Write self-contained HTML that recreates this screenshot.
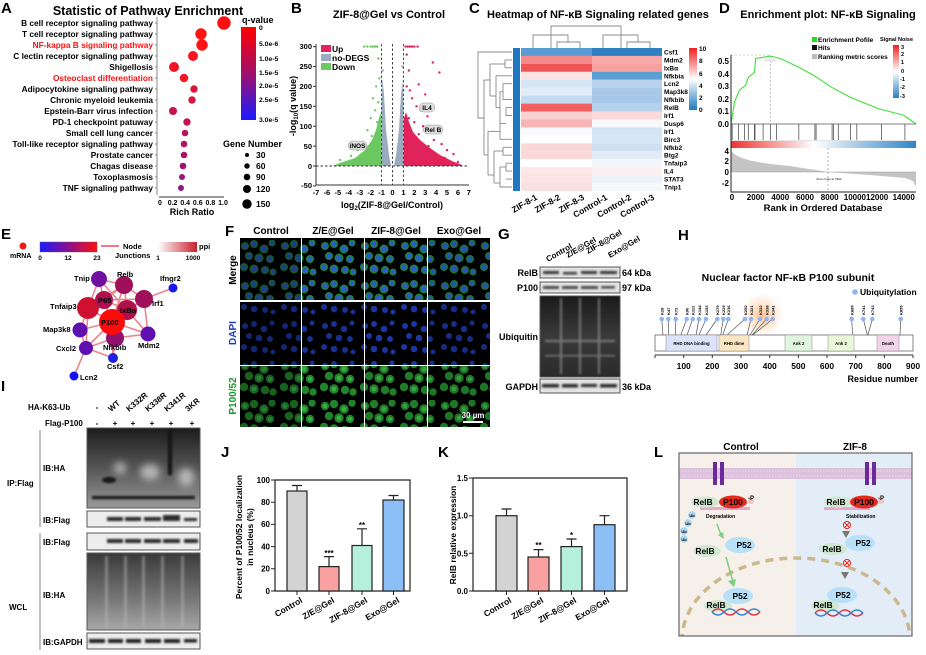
<!DOCTYPE html>
<html><head><meta charset="utf-8"><style>
html,body{margin:0;padding:0;background:#fff;width:926px;height:655px;overflow:hidden;}
svg{display:block;font-family:"Liberation Sans",Arial,sans-serif;}
.b{font-weight:bold;}
</style></head><body>
<svg width="926" height="655" viewBox="0 0 926 655" xmlns="http://www.w3.org/2000/svg">
<defs>
<linearGradient id="qv" x1="0" y1="0" x2="0" y2="1"><stop offset="0" stop-color="#ff0000"/><stop offset="0.5" stop-color="#a0106a"/><stop offset="1" stop-color="#1a1aff"/></linearGradient>
<linearGradient id="hmcb" x1="0" y1="0" x2="0" y2="1"><stop offset="0" stop-color="#f02020"/><stop offset="0.5" stop-color="#ffffff"/><stop offset="1" stop-color="#1f78c0"/></linearGradient>
<linearGradient id="rwb" x1="0" y1="0" x2="1" y2="0"><stop offset="0" stop-color="#f03030"/><stop offset="0.45" stop-color="#ffffff"/><stop offset="1" stop-color="#2f85c8"/></linearGradient>
<linearGradient id="sn" x1="0" y1="0" x2="0" y2="1"><stop offset="0" stop-color="#f02020"/><stop offset="0.5" stop-color="#ffffff"/><stop offset="1" stop-color="#2f80c0"/></linearGradient>
<linearGradient id="ebar" x1="0" y1="0" x2="1" y2="0"><stop offset="0" stop-color="#1a1aff"/><stop offset="0.5" stop-color="#8a1090"/><stop offset="1" stop-color="#ff1010"/></linearGradient>
<linearGradient id="ppi" x1="0" y1="0" x2="1" y2="0"><stop offset="0" stop-color="#ffffff"/><stop offset="1" stop-color="#c8202a"/></linearGradient>
<linearGradient id="iphA" x1="0" y1="0" x2="0" y2="1"><stop offset="0" stop-color="#1c1c1c"/><stop offset="0.5" stop-color="#555"/><stop offset="1" stop-color="#9a9a9a"/></linearGradient>
<linearGradient id="wclA" x1="0" y1="0" x2="0" y2="1"><stop offset="0" stop-color="#3a3a3a"/><stop offset="0.6" stop-color="#777"/><stop offset="1" stop-color="#a8a8a8"/></linearGradient>
<linearGradient id="ubq" x1="0" y1="0" x2="0" y2="1"><stop offset="0" stop-color="#1a1a1a"/><stop offset="0.5" stop-color="#3a3a3a"/><stop offset="1" stop-color="#2a2a2a"/></linearGradient>
<radialGradient id="glow"><stop offset="0" stop-color="#ffb070" stop-opacity="0.8"/><stop offset="1" stop-color="#ffd0a0" stop-opacity="0"/></radialGradient>
<filter id="bl" x="-20%" y="-50%" width="140%" height="200%"><feGaussianBlur stdDeviation="1"/></filter>
<filter id="bl3" x="-50%" y="-50%" width="200%" height="200%"><feGaussianBlur stdDeviation="4"/></filter>
<pattern id="pm" width="40" height="40" patternUnits="userSpaceOnUse">
<g fill="#1f8a3a"><circle cx="5" cy="6" r="4"/><circle cx="14" cy="4" r="4"/><circle cx="24" cy="9" r="4.5"/><circle cx="32" cy="3" r="3.5"/><circle cx="9" cy="16" r="4"/><circle cx="19" cy="18" r="4.5"/><circle cx="30" cy="19" r="4"/><circle cx="4" cy="27" r="4"/><circle cx="14" cy="29" r="4.5"/><circle cx="25" cy="30" r="4"/><circle cx="33" cy="32" r="3.5"/></g>
<g fill="#2f60d0"><circle cx="5" cy="6" r="2.6"/><circle cx="14" cy="4" r="2.6"/><circle cx="24" cy="9" r="3"/><circle cx="32" cy="3" r="2.2"/><circle cx="9" cy="16" r="2.6"/><circle cx="19" cy="18" r="3"/><circle cx="30" cy="19" r="2.6"/><circle cx="4" cy="27" r="2.6"/><circle cx="14" cy="29" r="3"/><circle cx="25" cy="30" r="2.6"/><circle cx="33" cy="32" r="2.2"/></g>
</pattern>
<pattern id="pd" width="40" height="40" patternUnits="userSpaceOnUse">
<g fill="#2040c0"><circle cx="5" cy="6" r="3"/><circle cx="14" cy="4" r="3"/><circle cx="24" cy="9" r="3.3"/><circle cx="32" cy="3" r="2.5"/><circle cx="9" cy="16" r="3"/><circle cx="19" cy="18" r="3.3"/><circle cx="30" cy="19" r="3"/><circle cx="4" cy="27" r="3"/><circle cx="14" cy="29" r="3.3"/><circle cx="25" cy="30" r="3"/><circle cx="33" cy="32" r="2.5"/></g>
</pattern>
<pattern id="pg" width="40" height="40" patternUnits="userSpaceOnUse">
<g fill="#238a2c"><circle cx="5" cy="6" r="4.2"/><circle cx="14" cy="4" r="4.2"/><circle cx="24" cy="9" r="4.7"/><circle cx="32" cy="3" r="3.7"/><circle cx="9" cy="16" r="4.2"/><circle cx="19" cy="18" r="4.7"/><circle cx="30" cy="19" r="4.2"/><circle cx="4" cy="27" r="4.2"/><circle cx="14" cy="29" r="4.7"/><circle cx="25" cy="30" r="4.2"/><circle cx="33" cy="32" r="3.7"/></g>
<g fill="#3cb848"><circle cx="5" cy="6" r="2"/><circle cx="24" cy="9" r="2.4"/><circle cx="19" cy="18" r="2.4"/><circle cx="14" cy="29" r="2.4"/><circle cx="30" cy="19" r="2"/></g>
</pattern>
</defs>

<!-- ================= A ================= -->
<text x="1" y="13" class="b" font-size="15">A</text>
<text x="148" y="15" class="b" font-size="12.5" text-anchor="middle">Statistic of Pathway Enrichment</text>
<g font-size="8.3" text-anchor="end" class="b">
<text x="153" y="26">B cell receptor signaling pathway</text>
<text x="153" y="37">T cell receptor signaling pathway</text>
<text x="153" y="48" fill="#ff1010">NF-kappa B signaling pathway</text>
<text x="153" y="59">C lectin receptor signaling pathway</text>
<text x="153" y="70">Shigellosis</text>
<text x="153" y="81" fill="#ff1010">Osteoclast differentiation</text>
<text x="153" y="92">Adipocytokine signaling pathway</text>
<text x="153" y="103">Chronic myeloid leukemia</text>
<text x="153" y="114">Epstein-Barr virus infection</text>
<text x="153" y="125">PD-1 checkpoint patuway</text>
<text x="153" y="136">Small cell lung cancer</text>
<text x="153" y="147">Toll-like receptor signaling pathway</text>
<text x="153" y="158">Prostate cancer</text>
<text x="153" y="169">Chagas disease</text>
<text x="153" y="180">Toxoplasmosis</text>
<text x="153" y="191">TNF signaling pathway</text>
</g>
<line x1="157" y1="17" x2="157" y2="195" stroke="#888" stroke-width="1"/>
<g stroke="#888"><path d="M155 23H157M155 34H157M155 45H157M155 56H157M155 67H157M155 78H157M155 89H157M155 100H157M155 111H157M155 122H157M155 133H157M155 144H157M155 155H157M155 166H157M155 177H157M155 188H157"/></g>
<g>
<circle cx="224" cy="23" r="6.7" fill="#ff1010"/>
<circle cx="201" cy="34" r="5.7" fill="#ff1414"/>
<circle cx="202" cy="45" r="5.7" fill="#ff1414"/>
<circle cx="193" cy="56" r="5" fill="#f81420"/>
<circle cx="174" cy="67" r="5" fill="#f41424"/>
<circle cx="184" cy="78" r="4.3" fill="#f01828"/>
<circle cx="194" cy="89" r="3.7" fill="#d8163c"/>
<circle cx="192" cy="100" r="3.7" fill="#d41640"/>
<circle cx="173" cy="111" r="4" fill="#c81448"/>
<circle cx="187" cy="122" r="3.7" fill="#c01452"/>
<circle cx="185" cy="133" r="3.3" fill="#b8145a"/>
<circle cx="184" cy="144" r="3.3" fill="#b01462"/>
<circle cx="184" cy="155" r="3.3" fill="#a81468"/>
<circle cx="183" cy="166" r="3.3" fill="#a01470"/>
<circle cx="182" cy="177" r="3" fill="#941880"/>
<circle cx="181" cy="188" r="3" fill="#8c1888"/>
</g>
<line x1="159" y1="197" x2="224" y2="197" stroke="#333"/>
<g font-size="7" text-anchor="middle" class="b"><text x="160" y="205">0</text><text x="172.6" y="205">0.2</text><text x="185.2" y="205">0.4</text><text x="197.8" y="205">0.6</text><text x="210.4" y="205">0.8</text><text x="223" y="205">1.0</text></g>
<text x="192" y="215" font-size="9" text-anchor="middle" class="b">Rich Ratio</text>
<text x="242" y="23" font-size="9" class="b">q-value</text>
<rect x="241" y="27" width="15" height="93" fill="url(#qv)"/>
<g font-size="6.8" class="b"><text x="259" y="30">0</text><text x="259" y="46">5.0e-6</text><text x="259" y="61">1.0e-5</text><text x="259" y="75">1.5e-5</text><text x="259" y="88">2.0e-5</text><text x="259" y="102">2.5e-5</text><text x="259" y="122">3.0e-5</text></g>
<text x="223" y="147" font-size="9" class="b">Gene Number</text>
<g fill="#000"><circle cx="247" cy="155" r="2"/><circle cx="247" cy="166" r="2.7"/><circle cx="247" cy="177" r="3.3"/><circle cx="247" cy="189" r="4"/><circle cx="247" cy="204" r="4.7"/></g>
<g font-size="8.5" class="b"><text x="256" y="158">30</text><text x="256" y="169">60</text><text x="256" y="180">90</text><text x="256" y="192">120</text><text x="256" y="207">150</text></g>

<!-- ================= B ================= -->
<text x="291" y="13" class="b" font-size="15">B</text>
<text x="389" y="18" class="b" font-size="11" text-anchor="middle">ZIF-8@Gel vs Control</text>
<polygon points="381,166 381,112 379,118 376,130 372,140 365,150 355,158 340,163 332,166" fill="#6cc860"/>
<polygon points="404,166 404,118 406,112 409,122 413,132 420,140 430,148 440,155 452,161 462,165 462,166" fill="#e0245a"/>
<polygon points="381,166 381.5,110 382.5,78 384,95 386,130 389,155 391,166" fill="#9aabc0"/>
<polygon points="404,166 403.5,110 402.5,80 401,95 399,130 396,155 394,166" fill="#9aabc0"/>
<g fill="#e0245a">
<circle cx="405.6" cy="46.6" r="1.2"/><circle cx="407.8" cy="46.6" r="1.2"/><circle cx="409.9" cy="46.6" r="1.2"/><circle cx="412.1" cy="46.6" r="1.2"/><circle cx="414.3" cy="46.6" r="1.2"/><circle cx="417.6" cy="46.6" r="1.2"/><circle cx="406.7" cy="54.6" r="1.2"/><circle cx="408.9" cy="70.5" r="1.2"/><circle cx="432.8" cy="62.5" r="1.2"/><circle cx="439.4" cy="72.5" r="1.2"/><circle cx="418.7" cy="84.4" r="1.2"/><circle cx="425.2" cy="94.4" r="1.2"/><circle cx="412.1" cy="98.3" r="1.2"/><circle cx="416.5" cy="106.3" r="1.2"/><circle cx="420.8" cy="110.3" r="1.2"/><circle cx="427.4" cy="116.3" r="1.2"/><circle cx="408.9" cy="118.2" r="1.2"/><circle cx="414.3" cy="122.2" r="1.2"/><circle cx="423" cy="126.2" r="1.2"/><circle cx="430.7" cy="128.2" r="1.2"/><circle cx="436.1" cy="132.2" r="1.2"/><circle cx="411" cy="130.2" r="1.2"/><circle cx="418.7" cy="134.2" r="1.2"/><circle cx="433.9" cy="140.1" r="1.2"/><circle cx="441.6" cy="144.1" r="1.2"/><circle cx="447" cy="150.1" r="1.2"/><circle cx="453.5" cy="154.1" r="1.2"/><circle cx="457.9" cy="162" r="1.2"/><circle cx="444.8" cy="158" r="1.2"/><circle cx="428.5" cy="146.1" r="1.2"/><circle cx="415.4" cy="142.1" r="1.2"/><circle cx="406.7" cy="86.4" r="1.2"/><circle cx="409.9" cy="90.4" r="1.2"/></g>
<g fill="#6cc860">
<circle cx="377.2" cy="46.6" r="1.2"/><circle cx="375.1" cy="46.6" r="1.2"/><circle cx="372.9" cy="46.6" r="1.2"/><circle cx="370.7" cy="46.6" r="1.2"/><circle cx="367.4" cy="46.6" r="1.2"/><circle cx="364.2" cy="46.6" r="1.2"/><circle cx="378.3" cy="58.5" r="1.2"/><circle cx="379.4" cy="78.4" r="1.2"/><circle cx="376.2" cy="86.4" r="1.2"/><circle cx="372.9" cy="98.3" r="1.2"/><circle cx="378.3" cy="102.3" r="1.2"/><circle cx="375.1" cy="110.3" r="1.2"/><circle cx="370.7" cy="118.2" r="1.2"/><circle cx="377.2" cy="122.2" r="1.2"/><circle cx="367.4" cy="130.2" r="1.2"/><circle cx="371.8" cy="136.1" r="1.2"/><circle cx="363.1" cy="142.1" r="1.2"/><circle cx="357.6" cy="150.1" r="1.2"/><circle cx="351.1" cy="156" r="1.2"/><circle cx="340.2" cy="160" r="1.2"/><circle cx="346.7" cy="162" r="1.2"/><circle cx="368.5" cy="146.1" r="1.2"/></g>
<g fill="#9aabc0"><circle cx="382.7" cy="70.5" r="1.2"/><circle cx="402.3" cy="66.5" r="1.2"/><circle cx="381.6" cy="82.4" r="1.2"/><circle cx="403.4" cy="90.4" r="1.2"/><circle cx="401.2" cy="106.3" r="1.2"/></g>
<g stroke="#333" stroke-width="0.9" stroke-dasharray="2.5,2" fill="none"><line x1="381.6" y1="44" x2="381.6" y2="185"/><line x1="392.5" y1="44" x2="392.5" y2="185"/><line x1="403.4" y1="44" x2="403.4" y2="185"/><line x1="316" y1="166" x2="469" y2="166"/></g>
<path d="M316 44V185H469" fill="none" stroke="#333" stroke-width="1"/>
<g stroke="#333"><path d="M313 46.6H316M313 66.5H316M313 86.4H316M313 106.3H316M313 126.2H316M313 146.1H316M313 166H316M313 185.9H316"/></g>
<g font-size="7.5" text-anchor="end" class="b"><text x="312" y="49">300</text><text x="312" y="69">250</text><text x="312" y="89">200</text><text x="312" y="109">150</text><text x="312" y="129">100</text><text x="312" y="149">50</text><text x="312" y="169">0</text><text x="312" y="188">-50</text></g>
<g font-size="7.5" text-anchor="middle" class="b"><text x="316" y="195">-7</text><text x="326.9" y="195">-6</text><text x="337.8" y="195">-5</text><text x="348.7" y="195">-4</text><text x="359.8" y="195">-3</text><text x="370.7" y="195">-2</text><text x="381.6" y="195">-1</text><text x="392.5" y="195">0</text><text x="403.4" y="195">1</text><text x="414.3" y="195">2</text><text x="425.2" y="195">3</text><text x="436.1" y="195">4</text><text x="447" y="195">5</text><text x="457.9" y="195">6</text><text x="468.8" y="195">7</text></g>
<text x="392" y="208" font-size="9" text-anchor="middle" class="b">log<tspan font-size="6" dy="2">2</tspan><tspan dy="-2">(ZIF-8@Gel/Control)</tspan></text>
<text transform="translate(296,106) rotate(-90)" font-size="9" text-anchor="middle" class="b">-log<tspan font-size="6" dy="2">10</tspan><tspan dy="-2">(q value)</tspan></text>
<rect x="321" y="45" width="10" height="7" fill="#e0245a"/><rect x="321" y="54" width="10" height="7" fill="#9aabc0"/><rect x="321" y="63" width="10" height="7" fill="#6cc860"/>
<g font-size="8.5" class="b"><text x="332" y="52">Up</text><text x="332" y="61">no-DEGS</text><text x="332" y="70">Down</text></g>
<g font-size="6.5" class="b" text-anchor="middle"><rect x="419" y="103" width="16" height="9" rx="4.5" fill="#ddd" stroke="#999" stroke-width="0.5"/><text x="427" y="110">IL4</text>
<rect x="423" y="125" width="20" height="9" rx="4.5" fill="#ddd" stroke="#999" stroke-width="0.5"/><text x="433" y="132">Rel B</text>
<rect x="348" y="141" width="19" height="9" rx="4.5" fill="#ddd" stroke="#999" stroke-width="0.5"/><text x="357.5" y="148">iNOS</text></g>

<!-- ================= C ================= -->
<text x="469" y="13" class="b" font-size="15">C</text>
<text x="487" y="18" class="b" font-size="11">Heatmap of NF-κB Signaling related genes</text>
<g stroke="#888" fill="none" stroke-width="0.9">
<path d="M551 48V26H621V48"/><path d="M533 48V35H568V42"/><path d="M557 48V42H580V48"/><path d="M603 48V35H638V42"/><path d="M627 48V42H650V48"/>
<path d="M512 52H478V118H484"/><path d="M484 80V155"/><path d="M484 80H490"/><path d="M490 64V96"/><path d="M490 64H505"/><path d="M505 59.9V67.8"/><path d="M505 59.9H512M505 67.8H512"/><path d="M490 96H496"/><path d="M496 75.8V107.6"/><path d="M496 75.8H512"/><path d="M496 107.6H500"/><path d="M500 91.7V123.4"/><path d="M500 91.7H503"/><path d="M503 83.7V99.6"/><path d="M503 83.7H512M503 99.6H512"/><path d="M500 123.4H506"/><path d="M506 107.6V115.5H512M506 107.6H512"/>
<path d="M484 155H488"/><path d="M488 131.4V175"/><path d="M488 131.4H500"/><path d="M500 123.4V139.3"/><path d="M500 139.3H512"/><path d="M488 175H494"/><path d="M494 151V183"/><path d="M494 151H503"/><path d="M503 147.3V155.2H512M503 147.3H512"/><path d="M494 183H500"/><path d="M500 167V187H512"/><path d="M500 167H506"/><path d="M506 163.2V171.1H512M506 163.2H512"/><path d="M506 179.1H512"/>
</g>
<rect x="513" y="48" width="7" height="143" fill="#1f78c0"/>
<g>
<rect x="521" y="48.0" width="71" height="8" fill="#5b9bd5"/><rect x="592" y="48.0" width="70" height="8" fill="#2f7fc1"/>
<rect x="521" y="55.9" width="71" height="8" fill="#f58a8a"/><rect x="592" y="55.9" width="70" height="8" fill="#f9a9a9"/>
<rect x="521" y="63.9" width="71" height="8" fill="#f05555"/><rect x="592" y="63.9" width="70" height="8" fill="#f7a0a0"/>
<rect x="521" y="71.8" width="71" height="8" fill="#fde4e4"/><rect x="592" y="71.8" width="70" height="8" fill="#5a9fd4"/>
<rect x="521" y="79.8" width="71" height="8" fill="#d6e5f3"/><rect x="592" y="79.8" width="70" height="8" fill="#b9d3ec"/>
<rect x="521" y="87.7" width="71" height="8" fill="#e3edf7"/><rect x="592" y="87.7" width="70" height="8" fill="#a9c9e8"/>
<rect x="521" y="95.6" width="71" height="8" fill="#c4daf0"/><rect x="592" y="95.6" width="70" height="8" fill="#a7c7e8"/>
<rect x="521" y="103.6" width="71" height="8" fill="#f26060"/><rect x="592" y="103.6" width="70" height="8" fill="#b5d1ec"/>
<rect x="521" y="111.5" width="71" height="8" fill="#fbd0d0"/><rect x="592" y="111.5" width="70" height="8" fill="#fbdada"/>
<rect x="521" y="119.5" width="71" height="8" fill="#f8b4b4"/><rect x="592" y="119.5" width="70" height="8" fill="#f7f9fc"/>
<rect x="521" y="127.4" width="71" height="8" fill="#f8fafd"/><rect x="592" y="127.4" width="70" height="8" fill="#d5e4f3"/>
<rect x="521" y="135.3" width="71" height="8" fill="#ffffff"/><rect x="592" y="135.3" width="70" height="8" fill="#d8e6f4"/>
<rect x="521" y="143.3" width="71" height="8" fill="#fbd8d8"/><rect x="592" y="143.3" width="70" height="8" fill="#cfe0f2"/>
<rect x="521" y="151.2" width="71" height="8" fill="#fbd8d8"/><rect x="592" y="151.2" width="70" height="8" fill="#e0ebf6"/>
<rect x="521" y="159.2" width="71" height="8" fill="#ffffff"/><rect x="592" y="159.2" width="70" height="8" fill="#f2f6fb"/>
<rect x="521" y="167.1" width="71" height="8" fill="#fde8e8"/><rect x="592" y="167.1" width="70" height="8" fill="#fdf0f0"/>
<rect x="521" y="175.0" width="71" height="8" fill="#fde4e4"/><rect x="592" y="175.0" width="70" height="8" fill="#edf3fa"/>
<rect x="521" y="183.0" width="71" height="8" fill="#fbe0e0"/><rect x="592" y="183.0" width="70" height="8" fill="#f6f9fc"/>
</g>
<g font-size="6.5" class="b">
<text x="664" y="54.5">Csf1</text><text x="664" y="62.4">Mdm2</text><text x="664" y="70.3">IxBα</text><text x="664" y="78.3">Nfkbia</text><text x="664" y="86.2">Lcn2</text><text x="664" y="94.2">Map3k8</text><text x="664" y="102.1">Nfkbib</text><text x="664" y="110.1">RelB</text><text x="664" y="118">Irf1</text><text x="664" y="125.9">Dusp6</text><text x="664" y="133.9">Irf1</text><text x="664" y="141.8">Birc3</text><text x="664" y="149.8">Nfkb2</text><text x="664" y="157.7">Btg2</text><text x="664" y="165.7">Tnfaip3</text><text x="664" y="173.6">IL4</text><text x="664" y="181.6">STAT3</text><text x="664" y="189.5">Tnip1</text>
</g>
<rect x="689" y="48" width="8" height="62" fill="url(#hmcb)"/>
<g font-size="6.5" class="b"><text x="699" y="51">10</text><text x="699" y="63">8</text><text x="699" y="76">6</text><text x="699" y="88">4</text><text x="699" y="100">2</text><text x="699" y="112">0</text></g>
<g font-size="8.5" class="b" text-anchor="end">
<text transform="translate(538,199) rotate(-30)">ZIF-8-1</text><text transform="translate(561,199) rotate(-30)">ZIF-8-2</text><text transform="translate(585,199) rotate(-30)">ZIF-8-3</text><text transform="translate(608,199) rotate(-30)">Control-1</text><text transform="translate(632,199) rotate(-30)">Control-2</text><text transform="translate(655,199) rotate(-30)">Control-3</text></g>

<!-- ================= D ================= -->
<text x="719" y="13" class="b" font-size="15">D</text>
<text x="828" y="18" class="b" font-size="11" text-anchor="middle">Enrichment plot: NF-κB Signaling</text>
<line x1="731" y1="55" x2="770" y2="55" stroke="#ccc" stroke-dasharray="2,2"/>
<line x1="770.5" y1="56" x2="770.5" y2="124" stroke="#aaa" stroke-dasharray="2,2" stroke-width="0.7"/>
<polyline points="731,124 734.7,101.3 739.6,90 745.8,85 748.3,77.4 754.4,72.3 755.7,58.5 770.5,56 780.3,58.5 798.8,67.3 814.9,76.1 829.7,86.2 850.6,97.5 879,108.9 903.7,115.2 916,124" fill="none" stroke="#3ee03a" stroke-width="1.1"/>
<rect x="765" y="57" width="10" height="4" fill="#eee" stroke="#aaa" stroke-width="0.3"/>
<line x1="731" y1="124" x2="916" y2="124" stroke="#555" stroke-width="0.8"/>
<line x1="731" y1="140.5" x2="916" y2="140.5" stroke="#ccc" stroke-width="0.6"/>
<g stroke="#555" stroke-width="0.8"><path d="M732.2 124V140M738.4 124V140M744.6 124V140M748.3 124V140M754.4 124V140M755 124V140M763.1 124V140M770.5 124V140M776.6 124V140M798.8 124V140M814.9 124V140M816.1 124V140M832.1 124V140M833.4 124V140M838.3 124V140M850.6 124V140M856.8 124V140M881.5 124V140M904.9 124V140"/></g>
<rect x="731" y="141" width="185" height="7" fill="url(#rwb)"/>
<path d="M731,172 L731,151 C738,159 755,163 790,166 L828,172 L870,175 L905,178 L913,181 L916,187 L916,172 Z" fill="#c4c4c4"/>
<line x1="731" y1="172" x2="916" y2="172" stroke="#999" stroke-width="0.5"/>
<line x1="828" y1="148" x2="828" y2="190" stroke="#888" stroke-dasharray="2,2" stroke-width="0.7"/>
<text x="829" y="180" font-size="3" text-anchor="middle">Zero cross at 7902</text>
<path d="M731 55V192H916" fill="none" stroke="#222" stroke-width="1"/>
<g font-size="8" text-anchor="end" class="b"><text x="729" y="64">0.5</text><text x="729" y="77">0.4</text><text x="729" y="89">0.3</text><text x="729" y="102">0.2</text><text x="729" y="114">0.1</text><text x="729" y="127">0.0</text><text x="729" y="154">4</text><text x="729" y="164">2</text><text x="729" y="175">0</text><text x="729" y="186">-2</text></g>
<g font-size="8" text-anchor="middle" class="b"><text x="732" y="200">0</text><text x="755.7" y="200">2000</text><text x="780.3" y="200">4000</text><text x="805" y="200">6000</text><text x="829.7" y="200">8000</text><text x="866" y="200">1000012000</text><text x="903.7" y="200">14000</text></g>
<text x="823" y="211" font-size="9.5" text-anchor="middle" class="b">Rank in Ordered Database</text>
<rect x="812" y="37" width="5" height="5" fill="#22dd22"/><rect x="812" y="45" width="5" height="5" fill="#111"/><rect x="812" y="54" width="5" height="5" fill="#bbb"/>
<g font-size="6.5" class="b"><text x="818" y="42">Enrichment Pofile</text><text x="818" y="50">Hits</text><text x="818" y="59">Ranking metric scores</text><text x="880" y="41" font-size="5.5">Signal Noise</text></g>
<rect x="893" y="45" width="6" height="53" fill="url(#sn)"/>
<g font-size="5.5" class="b"><text x="901" y="49">3</text><text x="901" y="56">2</text><text x="901" y="64">1</text><text x="901" y="73">0</text><text x="900" y="81">-1</text><text x="900" y="89">-2</text><text x="900" y="98">-3</text></g>

<!-- ================= E ================= -->
<text x="1" y="239" class="b" font-size="15">E</text>
<circle cx="23" cy="246" r="3.5" fill="#f01818"/>
<text x="10" y="258" font-size="7" class="b">mRNA</text>
<rect x="40" y="242" width="57" height="10" fill="url(#ebar)" stroke="#555" stroke-width="0.4"/>
<g font-size="6.5" class="b" text-anchor="middle"><text x="40" y="260">0</text><text x="68" y="260">12</text><text x="97" y="260">23</text><text x="158" y="260">1</text><text x="193" y="260">1000</text></g>
<line x1="101" y1="246" x2="119" y2="246" stroke="#e86a70" stroke-width="1.8"/>
<text x="123" y="249" font-size="7.5" class="b">Node</text>
<text x="115" y="258" font-size="7.5" class="b">Junctions</text>
<rect x="158" y="242" width="39" height="10" fill="url(#ppi)"/>
<text x="199" y="249" font-size="7.5" class="b">ppi</text>
<g stroke="#e97880" stroke-width="1.6" opacity="0.9">
<path d="M99 279L124 285M99 279L104 300M99 279L127 310M99 279L88 308M124 285L144 299M124 285L104 300M124 285L127 310M124 285L112 322M124 285L88 308M144 299L127 310M144 299L112 322M144 299L148 334M144 299L173 288M104 300L88 308M104 300L127 310M104 300L112 322M88 308L112 322M88 308L80 330M88 308L86 348M127 310L112 322M127 310L148 334M127 310L115 338M112 322L80 330M112 322L148 334M112 322L86 348M112 322L115 338M112 322L113 358M115 338L148 334M115 338L86 348M80 330L86 348M86 348L74 376M115 338L113 358M86 348L113 358M104 300L144 299"/>
</g>
<g>
<circle cx="99" cy="279" r="8" fill="#7010a0"/>
<circle cx="124" cy="285" r="9" fill="#a0105a"/>
<circle cx="173" cy="288" r="4.5" fill="#1818f0"/>
<circle cx="144" cy="299" r="9" fill="#a0105a"/>
<circle cx="88" cy="308" r="11" fill="#d01030"/>
<circle cx="104" cy="300" r="9" fill="#b01050"/>
<circle cx="127" cy="310" r="10" fill="#b0104a"/>
<circle cx="115" cy="338" r="9" fill="#901070"/>
<circle cx="112" cy="322" r="13" fill="#ff0a0a"/>
<circle cx="80" cy="330" r="7.5" fill="#6010b0"/>
<circle cx="148" cy="334" r="7.5" fill="#6010b0"/>
<circle cx="86" cy="348" r="7" fill="#6010b0"/>
<circle cx="113" cy="358" r="5" fill="#2020e0"/>
<circle cx="74" cy="376" r="4.5" fill="#1010f0"/>
</g>
<g font-size="7.5" class="b">
<text x="74" y="281">Tnip</text><text x="117" y="277">Relb</text><text x="160" y="281">Ifngr2</text><text x="152" y="306">Irf1</text><text x="98" y="303">P65</text><text x="50" y="309">Tnfaip3</text><text x="120" y="313">IxBα</text><text x="101" y="325">P100</text><text x="43" y="332">Map3k8</text><text x="103" y="350">Nfkbib</text><text x="138" y="348">Mdm2</text><text x="56" y="351">Cxcl2</text><text x="107" y="369">Csf2</text><text x="80" y="380">Lcn2</text>
</g>

<!-- ================= F ================= -->
<text x="225" y="236" class="b" font-size="15">F</text>
<g font-size="10" class="b" text-anchor="middle"><text x="271" y="234">Control</text><text x="333" y="234">Z/E@Gel</text><text x="396" y="234">ZIF-8@Gel</text><text x="459" y="234">Exo@Gel</text></g>
<g class="b" font-size="10" text-anchor="middle">
<text transform="translate(236,270) rotate(-90)">Merge</text>
<text transform="translate(236,333) rotate(-90)" fill="#2040c0">DAPI</text>
<text transform="translate(236,396) rotate(-90)" fill="#1a9a2a">P100/52</text></g>
<rect x="239" y="237" width="252" height="191" fill="#fff"/>
<rect x="240" y="238" width="61" height="62" fill="#000"/><rect x="240" y="238" width="61" height="62" fill="url(#pm)" opacity="0.65"/>
<rect x="302" y="238" width="62" height="62" fill="#000"/><rect x="302" y="238" width="62" height="62" fill="url(#pm)" opacity="0.95"/>
<rect x="365" y="238" width="62" height="62" fill="#000"/><rect x="365" y="238" width="62" height="62" fill="url(#pm)" opacity="0.95"/>
<rect x="428" y="238" width="62" height="62" fill="#000"/><rect x="428" y="238" width="62" height="62" fill="url(#pm)" opacity="0.85"/>
<rect x="240" y="302" width="61" height="63" fill="#000"/><rect x="240" y="302" width="61" height="63" fill="url(#pd)" opacity="0.6"/>
<rect x="302" y="302" width="62" height="63" fill="#000"/><rect x="302" y="302" width="62" height="63" fill="url(#pd)" opacity="0.75"/>
<rect x="365" y="302" width="62" height="63" fill="#000"/><rect x="365" y="302" width="62" height="63" fill="url(#pd)" opacity="0.85"/>
<rect x="428" y="302" width="62" height="63" fill="#000"/><rect x="428" y="302" width="62" height="63" fill="url(#pd)" opacity="0.7"/>
<rect x="240" y="366" width="61" height="61" fill="#000"/><rect x="240" y="366" width="61" height="61" fill="url(#pg)" opacity="0.7"/>
<rect x="302" y="366" width="62" height="61" fill="#000"/><rect x="302" y="366" width="62" height="61" fill="url(#pg)" opacity="0.95"/>
<rect x="365" y="366" width="62" height="61" fill="#000"/><rect x="365" y="366" width="62" height="61" fill="url(#pg)" opacity="0.9"/>
<rect x="428" y="366" width="62" height="61" fill="#000"/><rect x="428" y="366" width="62" height="61" fill="url(#pg)" opacity="0.85"/>
<text x="473" y="418" font-size="8" fill="#fff" class="b" text-anchor="middle">30 µm</text>
<rect x="463" y="421" width="20" height="2" fill="#fff"/>

<!-- ================= G ================= -->
<text x="498" y="239" class="b" font-size="15">G</text>
<g font-size="8" class="b">
<text transform="translate(548,262) rotate(-30)">Control</text><text transform="translate(568,258) rotate(-30)">Z/E@Gel</text><text transform="translate(588,254) rotate(-30)">ZIF-8@Gel</text><text transform="translate(610,258) rotate(-30)">Exo@Gel</text></g>
<rect x="540" y="267" width="80" height="11" fill="#e4e4e4" stroke="#555"/>
<g fill="#333" filter="url(#bl)"><rect x="543" y="271" width="16" height="3"/><rect x="563" y="272" width="14" height="2.5"/><rect x="581" y="271" width="16" height="3"/><rect x="600" y="271" width="17" height="3"/></g>
<rect x="540" y="282" width="80" height="11" fill="#e4e4e4" stroke="#555"/>
<g fill="#444" filter="url(#bl)"><rect x="543" y="286" width="16" height="3"/><rect x="562" y="286" width="16" height="3"/><rect x="581" y="286" width="17" height="3"/><rect x="601" y="286" width="14" height="2.5"/></g>
<rect x="540" y="296" width="80" height="81" fill="url(#ubq)" stroke="#555"/>
<g fill="#aaa" opacity="0.6" filter="url(#bl)"><rect x="560" y="298" width="2" height="76"/><rect x="579" y="298" width="2" height="76"/><rect x="598" y="298" width="2" height="76"/><rect x="545" y="340" width="70" height="2"/><rect x="545" y="355" width="70" height="1.5"/></g>
<rect x="540" y="379" width="80" height="14" fill="#e4e4e4" stroke="#555"/>
<g fill="#2a2a2a" filter="url(#bl)"><rect x="542" y="384" width="17" height="3.5"/><rect x="562" y="384" width="16" height="3.5"/><rect x="581" y="384" width="16" height="3"/><rect x="600" y="384" width="17" height="3.5"/></g>
<g font-size="9" class="b" text-anchor="end"><text x="538" y="276">RelB</text><text x="538" y="291">P100</text><text x="538" y="340">Ubiquitin</text><text x="538" y="390">GAPDH</text></g>
<g font-size="9" class="b"><text x="622" y="276">64 kDa</text><text x="622" y="291">97 kDa</text><text x="622" y="390">36 kDa</text></g>

<!-- ================= H ================= -->
<text x="678" y="240" class="b" font-size="15">H</text>
<text x="788" y="281" class="b" font-size="10.5" text-anchor="middle">Nuclear factor NF-κB P100 subunit</text>
<circle cx="855" cy="292" r="2.8" fill="#8fb4f5"/>
<text x="860" y="295" font-size="8.5" class="b">Ubiquitylation</text>
<circle cx="762" cy="315" r="22" fill="url(#glow)"/>
<g stroke="#555" stroke-width="0.7">
<path d="M661.7 319L663 335M668.3 319L668.5 335M675.7 319L675.6 335M686.7 319L680.8 335M692.7 319L687 335M699 319L696 335M706 319L699 335M717.3 319L706 335M723.3 319L720.7 335M728.3 319L722.7 335M745 319L727 335M751 319L747 335M760 319L750 335M766.7 319L752 335M772.7 319L752.8 335M851.7 319L852.5 335M863.3 319L867.4 335M872.3 319L868 335M900.7 319L900 335"/></g>
<g fill="#8fb4f5"><circle cx="661.7" cy="319" r="2.3"/><circle cx="668.3" cy="319" r="2.3"/><circle cx="675.7" cy="319" r="2.3"/><circle cx="686.7" cy="319" r="2.3"/><circle cx="692.7" cy="319" r="2.3"/><circle cx="699" cy="319" r="2.3"/><circle cx="706" cy="319" r="2.3"/><circle cx="717.3" cy="319" r="2.3"/><circle cx="723.3" cy="319" r="2.3"/><circle cx="728.3" cy="319" r="2.3"/><circle cx="745" cy="319" r="2.3"/><circle cx="751" cy="319" r="2.3"/><circle cx="760" cy="319" r="2.3"/><circle cx="766.7" cy="319" r="2.3"/><circle cx="772.7" cy="319" r="2.3"/><circle cx="851.7" cy="319" r="2.3"/><circle cx="863.3" cy="319" r="2.3"/><circle cx="872.3" cy="319" r="2.3"/><circle cx="900.7" cy="319" r="2.3"/></g>
<g font-size="4" class="b"><text transform="translate(663.5,315) rotate(-90)">K28</text><text transform="translate(670,315) rotate(-90)">K47</text><text transform="translate(677.5,315) rotate(-90)">K72</text><text transform="translate(688.5,315) rotate(-90)">K90</text><text transform="translate(694.5,315) rotate(-90)">K112</text><text transform="translate(700.8,315) rotate(-90)">K144</text><text transform="translate(707.8,315) rotate(-90)">K153</text><text transform="translate(719,315) rotate(-90)">K179</text><text transform="translate(725,315) rotate(-90)">K229</text><text transform="translate(730,315) rotate(-90)">K236</text><text transform="translate(746.8,315) rotate(-90)">K252</text><text transform="translate(752.8,315) rotate(-90)">K321</text><text transform="translate(761.8,315) rotate(-90)">K332</text><text transform="translate(768.5,315) rotate(-90)">K338</text><text transform="translate(774.5,315) rotate(-90)">K341</text><text transform="translate(853.5,315) rotate(-90)">K689</text><text transform="translate(865,315) rotate(-90)">K741</text><text transform="translate(874,315) rotate(-90)">K743</text><text transform="translate(902.5,315) rotate(-90)">K855</text></g>
<rect x="655" y="335" width="258" height="16" fill="#fff" stroke="#666" stroke-width="0.8"/>
<rect x="666" y="335" width="51" height="16" fill="#dbe4f8" stroke="#888" stroke-width="0.5"/>
<rect x="719" y="335" width="30" height="16" fill="#fae6c0" stroke="#888" stroke-width="0.5"/>
<rect x="785" y="335" width="27" height="16" fill="#dff5df" stroke="#888" stroke-width="0.5"/>
<rect x="828" y="335" width="26" height="16" fill="#e8f7d8" stroke="#888" stroke-width="0.5"/>
<rect x="877" y="335" width="22" height="16" fill="#f2d4ea" stroke="#888" stroke-width="0.5"/>
<g font-size="4.3" class="b" text-anchor="middle"><text x="691.5" y="345">RHD DNA binding</text><text x="734" y="345">RHD dime</text><text x="798.5" y="345">Ank 2</text><text x="841" y="345">Ank 2</text><text x="888" y="345">Death</text></g>
<line x1="655" y1="355" x2="913" y2="355" stroke="#333"/>
<g stroke="#333"><path d="M655 355V358M683.7 355V358M712.3 355V358M741 355V358M769.7 355V358M798.4 355V358M827 355V358M855.7 355V358M884.4 355V358M913 355V358"/></g>
<g font-size="8.5" class="b" text-anchor="middle"><text x="683.7" y="369">100</text><text x="712.3" y="369">200</text><text x="741" y="369">300</text><text x="769.7" y="369">400</text><text x="798.4" y="369">500</text><text x="827" y="369">600</text><text x="855.7" y="369">700</text><text x="884.4" y="369">800</text><text x="913" y="369">900</text></g>
<text x="918" y="382" font-size="9" class="b" text-anchor="end">Residue number</text>

<!-- ================= I ================= -->
<text x="1" y="391" class="b" font-size="15">I</text>
<text x="28" y="410" font-size="8" class="b">HA-K63-Ub</text>
<text x="45" y="426" font-size="8" class="b">Flag-P100</text>
<g font-size="8" class="b" text-anchor="middle"><text x="97" y="410">-</text><text x="97" y="426">-</text><text x="115" y="426">+</text><text x="133" y="426">+</text><text x="152" y="426">+</text><text x="171" y="426">+</text><text x="192" y="426">+</text></g>
<g font-size="8" class="b"><text transform="translate(111,412) rotate(-40)">WT</text><text transform="translate(129,412) rotate(-40)">K332R</text><text transform="translate(148,412) rotate(-40)">K338R</text><text transform="translate(167,412) rotate(-40)">K341R</text><text transform="translate(188,412) rotate(-40)">3KR</text></g>
<line x1="40" y1="430" x2="40" y2="527" stroke="#999" stroke-width="1.2"/>
<line x1="40" y1="533" x2="40" y2="650" stroke="#999" stroke-width="1.2"/>
<rect x="87" y="428" width="113" height="80" fill="url(#iphA)" stroke="#555"/>
<g fill="#ddd" opacity="0.7" filter="url(#bl3)"><ellipse cx="150" cy="472" rx="10" ry="8"/><ellipse cx="186" cy="477" rx="8" ry="9"/><ellipse cx="120" cy="468" rx="6" ry="6"/></g>
<g fill="#151515" filter="url(#bl)"><ellipse cx="109" cy="480" rx="7" ry="3"/><rect x="92" y="496" width="103" height="3"/><rect x="168" y="430" width="4" height="45"/></g>
<rect x="87" y="511" width="113" height="16" fill="#ededed" stroke="#555"/>
<g fill="#2a2a2a" filter="url(#bl)"><rect x="107" y="517" width="16" height="4"/><rect x="125" y="517" width="16" height="4"/><rect x="144" y="517" width="17" height="4"/><rect x="163" y="515" width="17" height="6"/><rect x="184" y="518" width="13" height="3"/></g>
<rect x="87" y="533" width="113" height="17" fill="#ededed" stroke="#555"/>
<g fill="#2a2a2a" filter="url(#bl)"><rect x="107" y="539" width="16" height="4"/><rect x="125" y="539" width="16" height="4"/><rect x="144" y="539" width="17" height="4"/><rect x="163" y="539" width="17" height="4"/><rect x="184" y="539" width="14" height="4"/></g>
<rect x="87" y="553" width="113" height="77" fill="url(#wclA)" stroke="#555"/>
<g fill="#bbb" opacity="0.45" filter="url(#bl)"><rect x="105" y="556" width="3" height="70"/><rect x="124" y="556" width="3" height="70"/><rect x="142" y="556" width="3" height="70"/><rect x="161" y="556" width="3" height="70"/><rect x="181" y="556" width="3" height="70"/></g>
<rect x="87" y="633" width="113" height="16" fill="#ededed" stroke="#555"/>
<g fill="#222" filter="url(#bl)"><rect x="89" y="639" width="16" height="4"/><rect x="108" y="639" width="15" height="4"/><rect x="126" y="639" width="15" height="4"/><rect x="145" y="639" width="16" height="4"/><rect x="164" y="639" width="16" height="4"/><rect x="184" y="639" width="13" height="3.5"/></g>
<g font-size="8" class="b"><text x="7" y="486">IP:Flag</text><text x="43" y="471">IB:HA</text><text x="43" y="523">IB:Flag</text><text x="43" y="545">IB:Flag</text><text x="9" y="610">WCL</text><text x="43" y="598">IB:HA</text><text x="43" y="645">IB:GAPDH</text></g>

<!-- ================= J ================= -->
<text x="221" y="457" class="b" font-size="15">J</text>
<path d="M275 480V591H410V480Z" fill="none" stroke="#222" stroke-width="1.2"/>
<g stroke="#222"><path d="M271 480H275M271 502.2H275M271 524.4H275M271 546.6H275M271 568.8H275M271 591H275M297 591V595M329 591V595M362 591V595M393.5 591V595"/></g>
<g font-size="8" text-anchor="end" class="b"><text x="270" y="483">100</text><text x="270" y="505">80</text><text x="270" y="527">60</text><text x="270" y="549.5">40</text><text x="270" y="571.5">20</text><text x="270" y="594">0</text></g>
<g stroke="#222" stroke-width="1.2"><path d="M297 491V485.5M292 485.5H302M329 566.6V556.6M324 556.6H334M362 545.5V528.8M357 528.8H367M393.5 500V495.5M388.5 495.5H398.5"/></g>
<rect x="287" y="491" width="20" height="100" fill="#d3d3d3" stroke="#222" stroke-width="1.2"/>
<rect x="319" y="566.6" width="20" height="24.4" fill="#f9a0a0" stroke="#222" stroke-width="1.2"/>
<rect x="352" y="545.5" width="20" height="45.5" fill="#b5f0dc" stroke="#222" stroke-width="1.2"/>
<rect x="383" y="500" width="21" height="91" fill="#8cbff5" stroke="#222" stroke-width="1.2"/>
<g font-size="8" text-anchor="middle" class="b"><text x="329" y="556">***</text><text x="362" y="528">**</text></g>
<g font-size="8.5" text-anchor="end" class="b"><text transform="translate(303,602) rotate(-30)">Control</text><text transform="translate(335,602) rotate(-30)">Z/E@Gel</text><text transform="translate(368,602) rotate(-30)">ZIF-8@Gel</text><text transform="translate(400,602) rotate(-30)">Exo@Gel</text></g>
<g font-size="8.5" text-anchor="middle" class="b"><text transform="translate(242,537) rotate(-90)">Percent of P100/52 localization</text><text transform="translate(253,537) rotate(-90)">in nucleus (%)</text></g>

<!-- ================= K ================= -->
<text x="438" y="457" class="b" font-size="15">K</text>
<path d="M473 478V591H627V478Z" fill="none" stroke="#222" stroke-width="1.2"/>
<g stroke="#222"><path d="M469 478H473M469 515.7H473M469 553.3H473M469 591H473M506.5 591V595M538.5 591V595M571.5 591V595M604.5 591V595"/></g>
<g font-size="8" text-anchor="end" class="b"><text x="468" y="481">1.5</text><text x="468" y="518.7">1.0</text><text x="468" y="556.3">0.5</text><text x="468" y="594">0.0</text></g>
<g stroke="#222" stroke-width="1.2"><path d="M506.5 515.7V509M501.5 509H511.5M538.5 557V549.6M533.5 549.6H543.5M571.5 546.6V539M566.5 539H576.5M604.5 524.7V515.7M599.5 515.7H609.5"/></g>
<rect x="496" y="515.7" width="21" height="75.3" fill="#d3d3d3" stroke="#222" stroke-width="1.2"/>
<rect x="528" y="557" width="21" height="34" fill="#f9a0a0" stroke="#222" stroke-width="1.2"/>
<rect x="561" y="546.6" width="21" height="44.4" fill="#b5f0dc" stroke="#222" stroke-width="1.2"/>
<rect x="594" y="524.7" width="21" height="66.3" fill="#8cbff5" stroke="#222" stroke-width="1.2"/>
<g font-size="8" text-anchor="middle" class="b"><text x="538.5" y="548">**</text><text x="571.5" y="538">*</text></g>
<g font-size="8.5" text-anchor="end" class="b"><text transform="translate(512,602) rotate(-30)">Control</text><text transform="translate(544,602) rotate(-30)">Z/E@Gel</text><text transform="translate(577,602) rotate(-30)">ZIF-8@Gel</text><text transform="translate(610,602) rotate(-30)">Exo@Gel</text></g>
<text transform="translate(456,535) rotate(-90)" font-size="8.5" text-anchor="middle" class="b">RelB relative expression</text>

<!-- ================= L ================= -->
<text x="654" y="457" class="b" font-size="15">L</text>
<text x="741" y="450" font-size="10" class="b" text-anchor="middle">Control</text>
<text x="855" y="450" font-size="10" class="b" text-anchor="middle">ZIF-8</text>
<rect x="679" y="453" width="117" height="183" fill="#f5f0ea"/>
<rect x="796" y="453" width="116" height="183" fill="#e2edf8"/>
<rect x="679" y="468" width="233" height="11" fill="#dcc0dc"/>
<g stroke="#efe0ef" stroke-width="1" stroke-dasharray="1.5,1.5"><line x1="679" y1="471" x2="912" y2="471"/><line x1="679" y1="476" x2="912" y2="476"/></g>
<g fill="#6a2a9a"><rect x="713" y="462" width="4" height="23"/><rect x="720" y="462" width="4" height="23"/><rect x="865" y="462" width="4" height="23"/><rect x="872" y="462" width="4" height="23"/></g>
<ellipse cx="796" cy="640" rx="114" ry="82" fill="none" stroke="#cbb88e" stroke-width="3.5" stroke-dasharray="8,6"/>
<rect x="679" y="636" width="233" height="19" fill="#fff"/>
<rect x="700" y="507" width="50" height="3" fill="#e8a8cc"/>
<ellipse cx="705" cy="502" rx="14" ry="5.5" fill="#cfe8cf"/>
<ellipse cx="733" cy="502" rx="14" ry="6.5" fill="#e42a1e"/>
<circle cx="751" cy="501" r="3" fill="#f5c0c0"/>
<g font-size="8.5" class="b" text-anchor="middle"><text x="703" y="505">RelB</text><text x="733" y="505">P100</text></g>
<text x="748" y="500" font-size="6" class="b">-P</text>
<text x="706" y="518" font-size="5" class="b">Degradation</text>
<g fill="#a8d4f0"><circle cx="692" cy="515" r="3.8"/><circle cx="688" cy="523" r="3.8"/><circle cx="684" cy="531" r="3.8"/><circle cx="684" cy="539" r="3.8"/></g>
<g font-size="4" class="b" text-anchor="middle"><text x="692" y="517">Ub</text><text x="688" y="525">Ub</text><text x="684" y="533">Ub</text><text x="684" y="541">Ub</text></g>
<path d="M717 524L721 535" stroke="#7ccf80" stroke-width="1.5"/><path d="M718 535L724 539L723 532Z" fill="#7ccf80"/>
<ellipse cx="740" cy="545" rx="15" ry="8" fill="#b8e0f8"/>
<ellipse cx="707" cy="551" rx="14" ry="6" fill="#cfe8cf"/>
<g font-size="8.5" class="b" text-anchor="middle"><text x="744" y="548">P52</text><text x="705" y="554">RelB</text></g>
<path d="M726 557L733 582" stroke="#7ccf80" stroke-width="1.5"/><path d="M728 581L734 587L736 579Z" fill="#7ccf80"/>
<ellipse cx="738" cy="596" rx="15" ry="8" fill="#b8e0f8"/>
<ellipse cx="718" cy="606" rx="14" ry="6" fill="#cfe8cf"/>
<g font-size="8.5" class="b" text-anchor="middle"><text x="740" y="599">P52</text><text x="716" y="608">RelB</text></g>
<path d="M712 612Q718 606 724 612T736 612T748 612T760 612" fill="none" stroke="#e03040" stroke-width="1.5"/>
<path d="M712 612Q718 618 724 612T736 612T748 612T760 612" fill="none" stroke="#3080d0" stroke-width="1.5"/>
<rect x="824" y="507" width="46" height="3" fill="#e8a8cc"/>
<ellipse cx="838" cy="502" rx="14" ry="5.5" fill="#cfe8cf"/>
<ellipse cx="864" cy="502" rx="14" ry="6.5" fill="#e42a1e"/>
<circle cx="881" cy="501" r="3" fill="#f5c0c0"/>
<g font-size="8.5" class="b" text-anchor="middle"><text x="836" y="505">RelB</text><text x="864" y="505">P100</text></g>
<text x="878" y="500" font-size="6" class="b">-P</text>
<text x="846" y="518" font-size="5" class="b">Stabilization</text>
<circle cx="847" cy="525" r="3.5" fill="#fff" stroke="#e02020" stroke-width="1"/><path d="M845 523L849 527M849 523L845 527" stroke="#e02020" stroke-width="1"/>
<path d="M842 531L850 531L846 538Z" fill="#777"/>
<ellipse cx="860" cy="543" rx="15" ry="8" fill="#b8e0f8"/>
<ellipse cx="833" cy="549" rx="14" ry="6" fill="#cfe8cf"/>
<g font-size="8.5" class="b" text-anchor="middle"><text x="863" y="546">P52</text><text x="832" y="552">RelB</text></g>
<circle cx="847" cy="563" r="3.5" fill="#fff" stroke="#e02020" stroke-width="1"/><path d="M845 561L849 565M849 561L845 565" stroke="#e02020" stroke-width="1"/>
<path d="M841 572L849 572L845 579Z" fill="#777"/>
<ellipse cx="842" cy="595" rx="15" ry="8" fill="#b8e0f8"/>
<ellipse cx="825" cy="606" rx="14" ry="6" fill="#cfe8cf"/>
<g font-size="8.5" class="b" text-anchor="middle"><text x="843" y="598">P52</text><text x="823" y="608">RelB</text></g>
<path d="M815 613Q821 607 827 613T839 613T851 613T863 613" fill="none" stroke="#e03040" stroke-width="1.5"/>
<path d="M815 613Q821 619 827 613T839 613T851 613T863 613" fill="none" stroke="#3080d0" stroke-width="1.5"/>
<rect x="679" y="453" width="233" height="183" fill="none" stroke="#666" stroke-width="1.2"/>
</svg>
</body></html>
